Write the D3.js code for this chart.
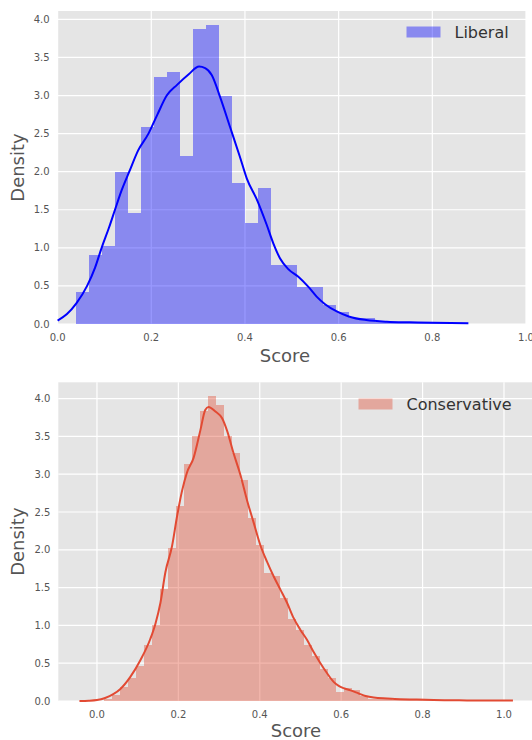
<!DOCTYPE html>
<html>
  <head>
    <meta charset="utf-8">
    <script src="https://cdn.jsdelivr.net/npm/d3@7/dist/d3.min.js"></script>
    <style>
      body { margin: 0; background: white; }
      text { font-family: "DejaVu Sans", sans-serif; }
      .tick-label { fill: #555555; font-size: 10px; }
      .axis-label { fill: #555555; font-size: 18px; }
      .legend-label { fill: #333333; font-size: 16px; }
    </style>
  </head>
  <body>
    <svg id="chart" width="532" height="740"></svg>
    <script>
      // Liberal histogram (density per bin) and kde curve
      var libBinStart = 0.0386;
      var libBinWidth = 0.02776;
      var libHeights = [0.42, 0.91, 1.03, 1.99, 1.46, 2.59, 3.24, 3.31, 2.21, 3.87,
                        3.93, 2.99, 1.85, 1.33, 1.79, 0.78, 0.77, 0.49, 0.49, 0.25,
                        0.16, 0.075, 0.075, 0.03, 0.02, 0.02, 0.01, 0.01, 0.01, 0.01];
      var libKde = [[0.0, 0.045], [0.02, 0.13], [0.04, 0.27], [0.063, 0.5], [0.08, 0.74],
                    [0.094, 1.0], [0.11, 1.27], [0.1225, 1.5], [0.137, 1.76], [0.153, 2.0],
                    [0.172, 2.28], [0.194, 2.5], [0.213, 2.75], [0.233, 3.0], [0.255, 3.14],
                    [0.28, 3.28], [0.302, 3.38], [0.315, 3.36], [0.329, 3.27], [0.347, 2.98],
                    [0.368, 2.59], [0.389, 2.2], [0.404, 1.91], [0.425, 1.64], [0.446, 1.31],
                    [0.4605, 1.06], [0.475, 0.86], [0.4925, 0.72], [0.514, 0.62], [0.535, 0.49],
                    [0.553, 0.36], [0.571, 0.26], [0.596, 0.165], [0.623, 0.096], [0.659, 0.052],
                    [0.703, 0.03], [0.752, 0.022], [0.802, 0.017], [0.877, 0.01]];

      // Conservative histogram and kde curve
      var conBinStart = 0.0183;
      var conBinWidth = 0.01966;
      var conHeights = [0.03, 0.08, 0.19, 0.31, 0.46, 0.74, 1.0, 1.48, 2.02, 2.58,
                        3.13, 3.51, 3.84, 4.03, 3.92, 3.51, 3.28, 2.93, 2.42, 2.07,
                        1.69, 1.65, 1.36, 1.08, 0.94, 0.74, 0.59, 0.42, 0.3, 0.12,
                        0.17, 0.14, 0.06, 0.03, 0.02, 0.02, 0.015, 0.01, 0.01, 0.01,
                        0.01, 0.005, 0.005, 0.005, 0.0, 0.005, 0.0, 0.0, 0.0, 0.005];
      var conKde = [[-0.043, 0.0], [-0.02, 0.003], [0.0, 0.012], [0.02, 0.04], [0.04, 0.09],
                    [0.0575, 0.16], [0.082, 0.32], [0.1066, 0.54], [0.131, 0.82], [0.1435, 1.02],
                    [0.156, 1.3], [0.168, 1.7], [0.1845, 2.05], [0.197, 2.45], [0.209, 2.78],
                    [0.221, 3.02], [0.2376, 3.22], [0.254, 3.58], [0.266, 3.85], [0.274, 3.89],
                    [0.291, 3.83], [0.3075, 3.74], [0.32, 3.57], [0.336, 3.27], [0.352, 3.0],
                    [0.369, 2.65], [0.385, 2.36], [0.4015, 2.06], [0.418, 1.84], [0.434, 1.65],
                    [0.451, 1.47], [0.467, 1.3], [0.483, 1.1], [0.5, 0.94], [0.516, 0.81],
                    [0.532, 0.65], [0.549, 0.5], [0.565, 0.37], [0.582, 0.25], [0.594, 0.2],
                    [0.606, 0.17], [0.623, 0.14], [0.643, 0.1], [0.66, 0.066], [0.68, 0.045],
                    [0.713, 0.033], [0.745, 0.024], [0.786, 0.02], [0.827, 0.013], [0.909, 0.008],
                    [1.022, 0.005]];

      var xTicks = [0.0, 0.2, 0.4, 0.6, 0.8, 1.0];
      var yTicks = [0.0, 0.5, 1.0, 1.5, 2.0, 2.5, 3.0, 3.5, 4.0];

      var svg = d3.select("#chart");

      function drawPanel(opt) {
        var x = d3.scaleLinear().domain(opt.xDomain).range([opt.left, opt.right]);
        var y = d3.scaleLinear().domain(opt.yDomain).range([opt.bottom, opt.top]);
        var g = svg.append("g");

        g.append("rect")
          .attr("x", opt.left).attr("y", opt.top)
          .attr("width", opt.right - opt.left).attr("height", opt.bottom - opt.top)
          .style("fill", "#e5e5e5");

        g.selectAll(".vgrid").data(xTicks).enter().append("line")
          .attr("x1", d => x(d)).attr("x2", d => x(d))
          .attr("y1", opt.top).attr("y2", opt.bottom)
          .style("stroke", "white").style("stroke-width", "1.2px");
        g.selectAll(".hgrid").data(yTicks).enter().append("line")
          .attr("x1", opt.left).attr("x2", opt.right)
          .attr("y1", d => y(d)).attr("y2", d => y(d))
          .style("stroke", "white").style("stroke-width", "1.2px");

        var bins = opt.heights.map((h, i) => ({
          x0: opt.binStart + i * opt.binWidth,
          x1: opt.binStart + (i + 1) * opt.binWidth,
          h: h
        }));
        g.selectAll(".bar").data(bins).enter().append("rect")
          .attr("x", d => x(d.x0))
          .attr("width", d => x(d.x1) - x(d.x0))
          .attr("y", d => y(d.h))
          .attr("height", d => y(0) - y(d.h))
          .style("fill", opt.color)
          .style("opacity", 0.4)
          .attr("shape-rendering", "crispEdges");

        var line = d3.line()
          .x(d => x(d[0])).y(d => y(d[1]))
          .curve(d3.curveMonotoneX);
        g.append("path")
          .datum(opt.kde)
          .attr("d", line)
          .style("fill", "none")
          .style("stroke", opt.color)
          .style("stroke-width", "2px");

        g.selectAll(".xlab").data(xTicks).enter().append("text")
          .attr("class", "tick-label")
          .attr("x", d => x(d)).attr("y", opt.bottom + 17)
          .attr("text-anchor", "middle")
          .text(d => d.toFixed(1));
        g.selectAll(".ylab").data(yTicks).enter().append("text")
          .attr("class", "tick-label")
          .attr("x", opt.left - 8).attr("y", d => y(d) + 3.5)
          .attr("text-anchor", "end")
          .text(d => d.toFixed(1));

        g.append("text").attr("class", "axis-label")
          .attr("x", opt.xLabelX).attr("y", opt.bottom + opt.xLabelGap)
          .attr("text-anchor", "middle")
          .text("Score");
        g.append("text").attr("class", "axis-label")
          .attr("transform", "translate(24," + ((opt.top + opt.bottom) / 2) + ") rotate(-90)")
          .attr("text-anchor", "middle")
          .text("Density");

        g.append("rect")
          .attr("x", opt.legendX).attr("y", opt.legendY)
          .attr("width", 34).attr("height", 11)
          .style("fill", opt.color).style("opacity", 0.4);
        g.append("text").attr("class", "legend-label")
          .attr("x", opt.legendX + 48).attr("y", opt.legendY + 11.5)
          .text(opt.name);
      }

      drawPanel({
        name: "Liberal", color: "#0000ff",
        left: 57.6, right: 526, top: 11, bottom: 324,
        xDomain: [0, 1], yDomain: [0, 4.11],
        binStart: libBinStart, binWidth: libBinWidth, heights: libHeights, kde: libKde,
        xLabelX: 285, xLabelGap: 38, legendX: 406.5, legendY: 26.5
      });

      drawPanel({
        name: "Conservative", color: "#e24a33",
        left: 58.3, right: 534.5, top: 382.3, bottom: 701,
        xDomain: [-0.095, 1.075], yDomain: [0, 4.216],
        binStart: conBinStart, binWidth: conBinWidth, heights: conHeights, kde: conKde,
        xLabelX: 296, xLabelGap: 35.5, legendX: 358.5, legendY: 398.5
      });
    </script>
  </body>
</html>
